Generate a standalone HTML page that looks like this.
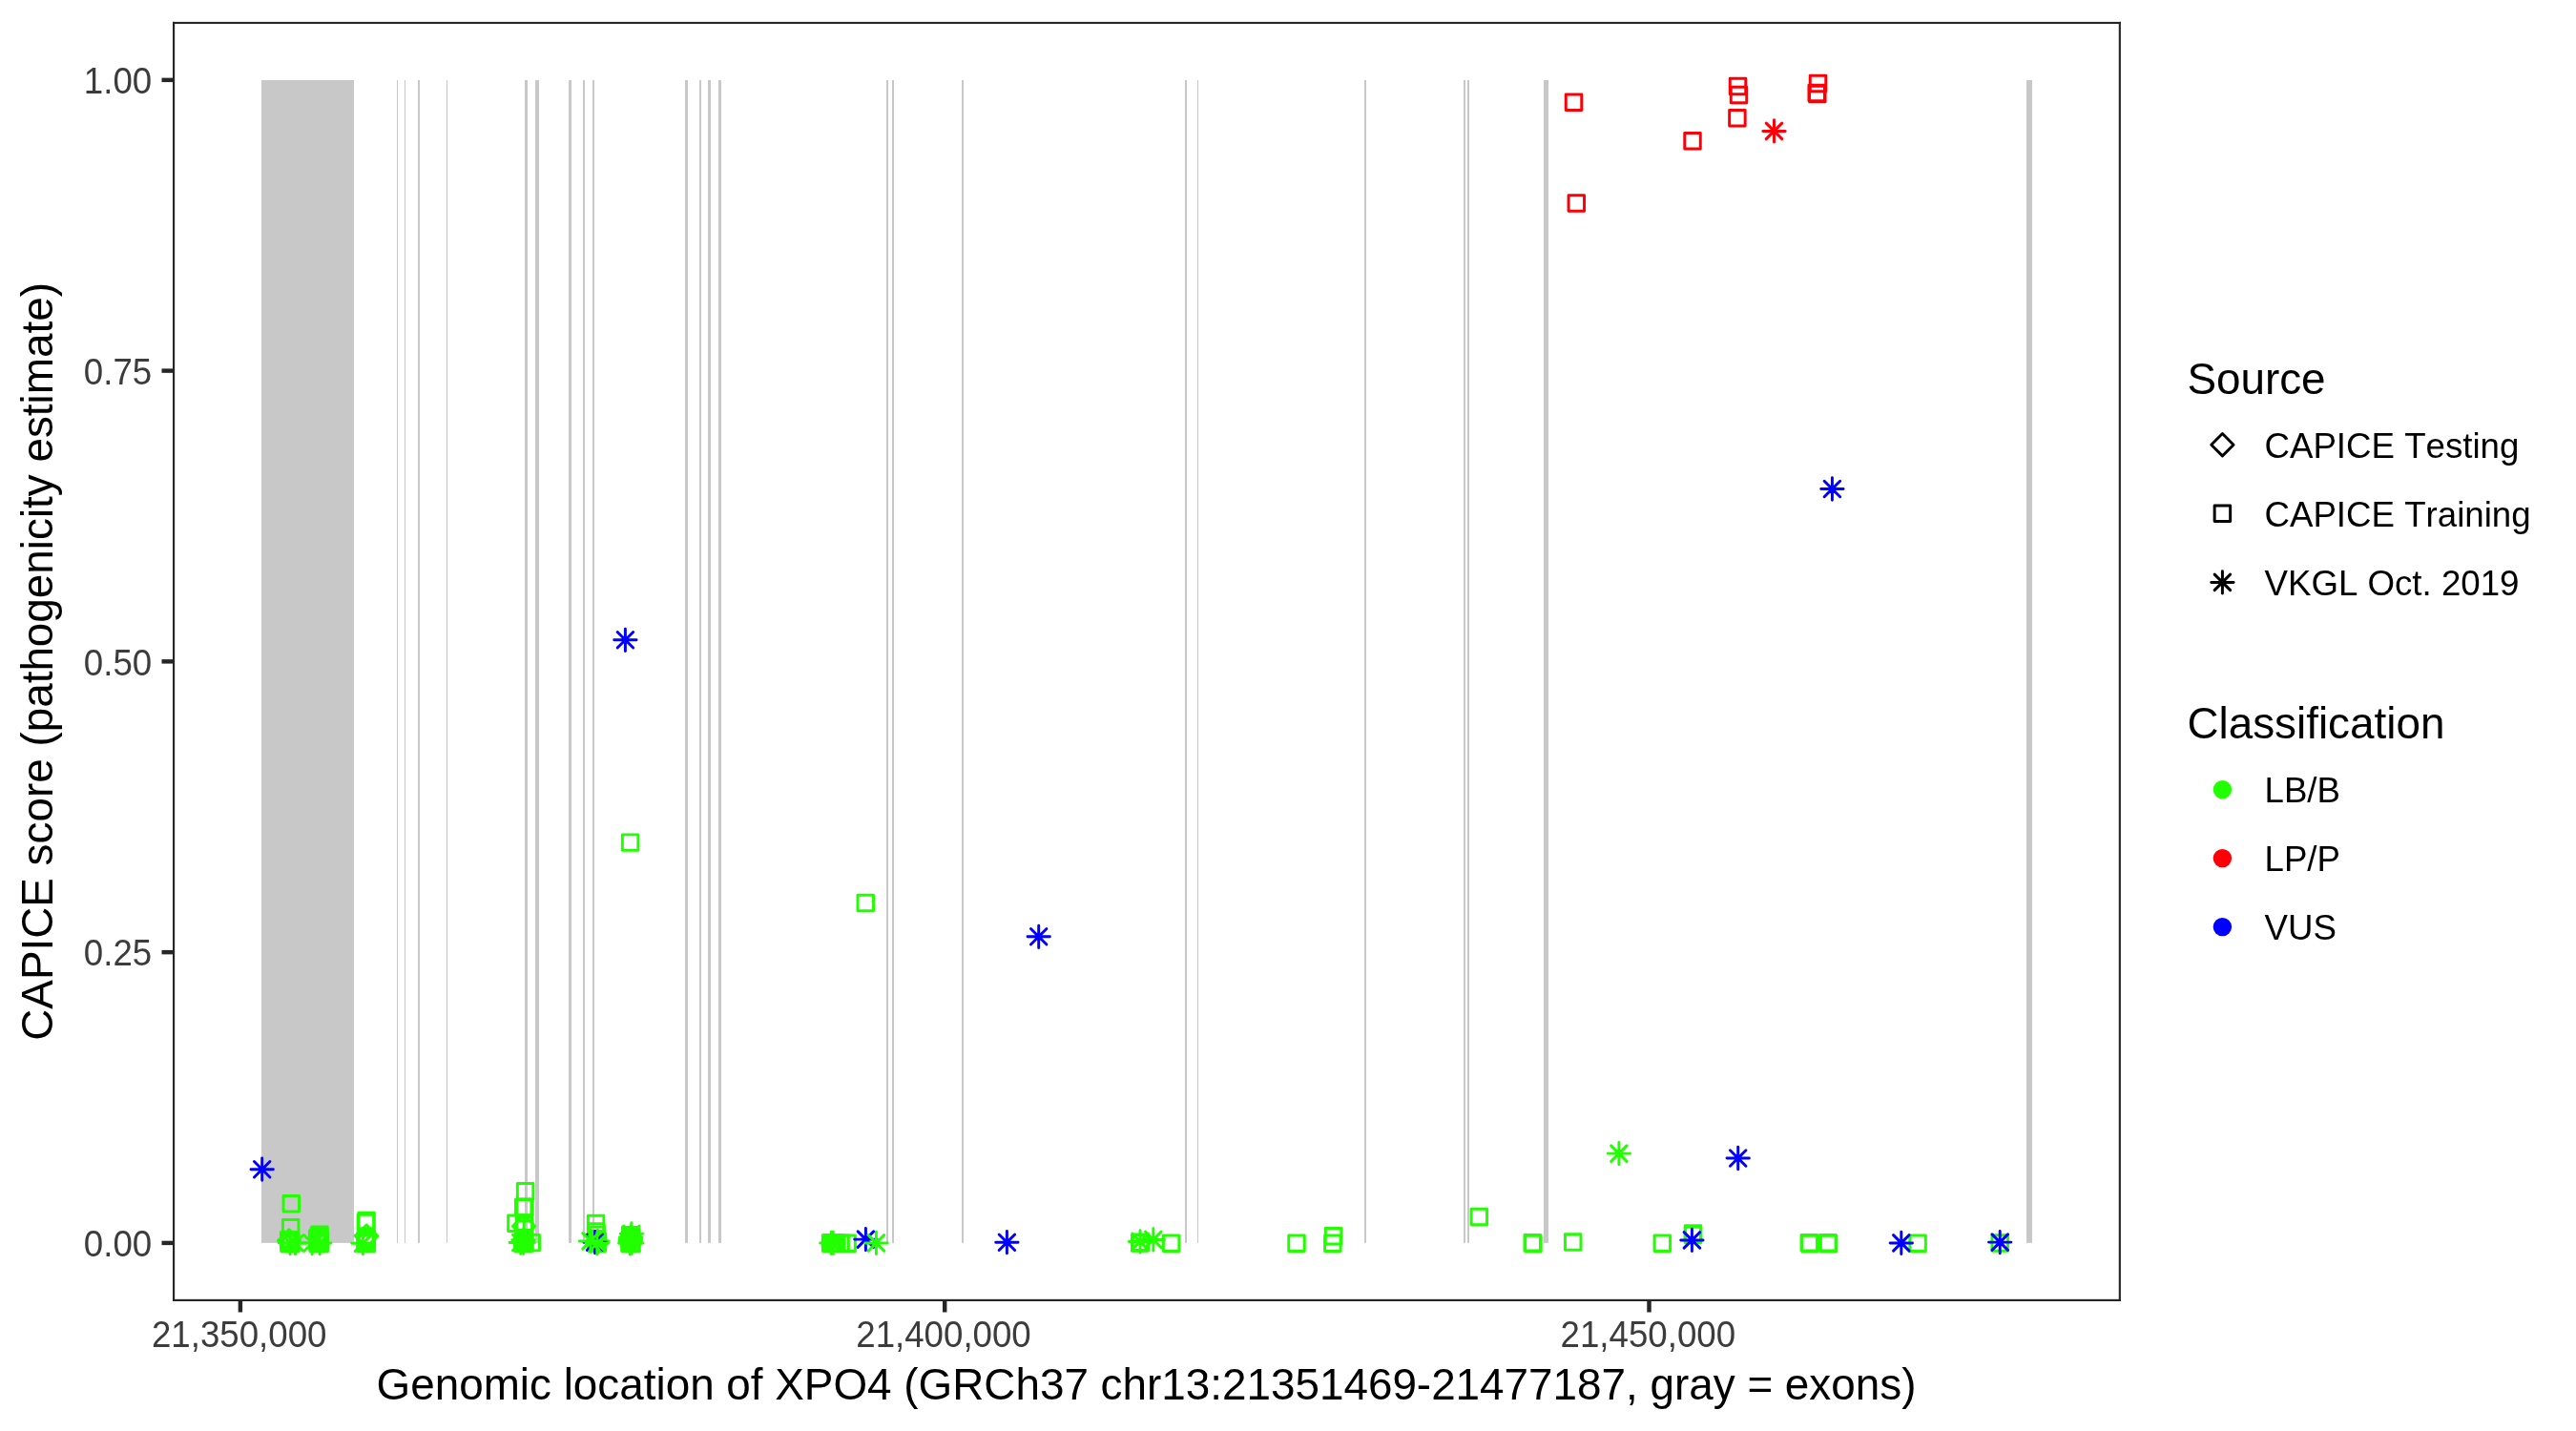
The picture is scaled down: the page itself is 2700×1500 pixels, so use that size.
<!DOCTYPE html>
<html><head><meta charset="utf-8"><title>CAPICE XPO4</title>
<style>html,body{margin:0;padding:0;background:#fff;overflow:hidden}svg{display:block;will-change:transform}text{font-family:"Liberation Sans",sans-serif;font-kerning:none}.sq{fill:none;stroke-width:2.95;stroke-linejoin:round}.st{fill:none;stroke-width:2.95;stroke-linecap:round}.g{stroke:#22FF00}.r{stroke:#FB0007}.b{stroke:#0000FF}.k{stroke:#000}</style></head><body>
<svg width="2700" height="1500" viewBox="0 0 2700 1500">
<rect width="2700" height="1500" fill="#fff"/>
<g fill="#C8C8C8">
<rect x="274.00" y="84.00" width="97.00" height="1218.90"/>
<rect x="416.00" y="84.00" width="1.00" height="1218.90"/>
<rect x="424.00" y="84.00" width="1.00" height="1218.90"/>
<rect x="438.00" y="84.00" width="2.00" height="1218.90"/>
<rect x="468.00" y="84.00" width="1.00" height="1218.90"/>
<rect x="550.00" y="84.00" width="3.00" height="1218.90"/>
<rect x="561.00" y="84.00" width="4.00" height="1218.90"/>
<rect x="596.00" y="84.00" width="3.00" height="1218.90"/>
<rect x="611.00" y="84.00" width="2.00" height="1218.90"/>
<rect x="621.00" y="84.00" width="2.00" height="1218.90"/>
<rect x="718.00" y="84.00" width="3.00" height="1218.90"/>
<rect x="733.00" y="84.00" width="2.00" height="1218.90"/>
<rect x="742.00" y="84.00" width="3.00" height="1218.90"/>
<rect x="753.00" y="84.00" width="3.00" height="1218.90"/>
<rect x="929.00" y="84.00" width="2.00" height="1218.90"/>
<rect x="935.00" y="84.00" width="2.00" height="1218.90"/>
<rect x="1008.00" y="84.00" width="2.00" height="1218.90"/>
<rect x="1242.00" y="84.00" width="2.00" height="1218.90"/>
<rect x="1255.00" y="84.00" width="1.00" height="1218.90"/>
<rect x="1430.00" y="84.00" width="2.00" height="1218.90"/>
<rect x="1534.00" y="84.00" width="2.00" height="1218.90"/>
<rect x="1538.00" y="84.00" width="2.00" height="1218.90"/>
<rect x="1618.00" y="84.00" width="5.00" height="1218.90"/>
<rect x="2124.00" y="84.00" width="6.00" height="1218.90"/>
</g>
<g>
<rect class="sq r" x="1641.25" y="98.95" width="16.50" height="16.50"/>
<rect class="sq r" x="1644.05" y="204.65" width="16.50" height="16.50"/>
<rect class="sq r" x="1765.75" y="139.55" width="16.50" height="16.50"/>
<rect class="sq r" x="1812.65" y="115.45" width="16.50" height="16.50"/>
<rect class="sq r" x="1813.25" y="82.15" width="16.50" height="16.50"/>
<rect class="sq r" x="1814.25" y="91.25" width="16.50" height="16.50"/>
<rect class="sq r" x="1897.25" y="79.25" width="16.50" height="16.50"/>
<rect class="sq r" x="1895.95" y="89.25" width="16.50" height="16.50"/>
<rect class="sq r" x="1896.55" y="90.35" width="16.50" height="16.50"/>
<path class="st r" d="M1847.83 137.40H1871.17M1859.50 125.73V149.07M1851.25 129.15L1867.75 145.65M1851.25 145.65L1867.75 129.15"/>
<path class="st b" d="M643.73 670.80H667.07M655.40 659.13V682.47M647.15 662.55L663.65 679.05M647.15 679.05L663.65 662.55"/>
<rect class="sq g" x="652.35" y="874.85" width="16.50" height="16.50"/>
<rect class="sq g" x="899.00" y="938.15" width="16.50" height="16.50"/>
<path class="st b" d="M1077.03 981.80H1100.37M1088.70 970.13V993.47M1080.45 973.55L1096.95 990.05M1080.45 990.05L1096.95 973.55"/>
<path class="st b" d="M1908.73 512.50H1932.07M1920.40 500.83V524.17M1912.15 504.25L1928.65 520.75M1912.15 520.75L1928.65 504.25"/>
<path class="st g" d="M1685.23 1209.10H1708.57M1696.90 1197.43V1220.77M1688.65 1200.85L1705.15 1217.35M1688.65 1217.35L1705.15 1200.85"/>
<path class="st b" d="M1810.03 1214.00H1833.37M1821.70 1202.33V1225.67M1813.45 1205.75L1829.95 1222.25M1813.45 1222.25L1829.95 1205.75"/>
<path class="st b" d="M263.03 1225.70H286.37M274.70 1214.03V1237.37M266.45 1217.45L282.95 1233.95M266.45 1233.95L282.95 1217.45"/>
<rect class="sq g" x="297.05" y="1253.55" width="16.50" height="16.50"/>
<rect class="sq g" x="296.45" y="1278.55" width="16.50" height="16.50"/>
<rect class="sq g" x="294.45" y="1291.45" width="16.50" height="16.50"/>
<rect class="sq g" x="295.25" y="1292.75" width="16.50" height="16.50"/>
<rect class="sq g" x="296.05" y="1293.95" width="16.50" height="16.50"/>
<rect class="sq g" x="296.75" y="1295.05" width="16.50" height="16.50"/>
<rect class="sq g" x="294.65" y="1295.05" width="16.50" height="16.50"/>
<rect class="sq g" x="295.75" y="1292.15" width="16.50" height="16.50"/>
<path class="sq g" d="M291.33 1300.50L303.00 1288.83L314.67 1300.50L303.00 1312.17Z"/>
<path class="st g" d="M292.33 1303.00H315.67M304.00 1291.33V1314.67M295.75 1294.75L312.25 1311.25M295.75 1311.25L312.25 1294.75"/>
<path class="st g" d="M297.83 1303.00H321.17M309.50 1291.33V1314.67M301.25 1294.75L317.75 1311.25M301.25 1311.25L317.75 1294.75"/>
<rect class="sq g" x="295.65" y="1291.65" width="16.50" height="16.50"/>
<rect class="sq g" x="326.75" y="1285.95" width="16.50" height="16.50"/>
<rect class="sq g" x="326.15" y="1287.75" width="16.50" height="16.50"/>
<rect class="sq g" x="324.45" y="1290.15" width="16.50" height="16.50"/>
<rect class="sq g" x="325.35" y="1291.75" width="16.50" height="16.50"/>
<rect class="sq g" x="326.55" y="1293.25" width="16.50" height="16.50"/>
<rect class="sq g" x="324.75" y="1295.05" width="16.50" height="16.50"/>
<rect class="sq g" x="327.15" y="1295.05" width="16.50" height="16.50"/>
<rect class="sq g" x="325.75" y="1289.05" width="16.50" height="16.50"/>
<rect class="sq g" x="326.95" y="1290.95" width="16.50" height="16.50"/>
<path class="st g" d="M315.43 1303.00H338.77M327.10 1291.33V1314.67M318.85 1294.75L335.35 1311.25M318.85 1311.25L335.35 1294.75"/>
<path class="st g" d="M323.53 1303.00H346.87M335.20 1291.33V1314.67M326.95 1294.75L343.45 1311.25M326.95 1311.25L343.45 1294.75"/>
<rect class="sq g" x="325.15" y="1292.75" width="16.50" height="16.50"/>
<rect class="sq g" x="326.35" y="1286.95" width="16.50" height="16.50"/>
<rect class="sq g" x="325.55" y="1294.15" width="16.50" height="16.50"/>
<rect class="sq g" x="375.85" y="1271.15" width="16.50" height="16.50"/>
<rect class="sq g" x="375.15" y="1273.15" width="16.50" height="16.50"/>
<rect class="sq g" x="374.95" y="1295.05" width="16.50" height="16.50"/>
<rect class="sq g" x="376.15" y="1295.05" width="16.50" height="16.50"/>
<rect class="sq g" x="375.55" y="1293.25" width="16.50" height="16.50"/>
<path class="sq g" d="M372.43 1295.60L384.10 1283.93L395.77 1295.60L384.10 1307.27Z"/>
<path class="st g" d="M368.73 1303.20H392.07M380.40 1291.53V1314.87M372.15 1294.95L388.65 1311.45M372.15 1311.45L388.65 1294.95"/>
<rect class="sq g" x="375.25" y="1291.25" width="16.50" height="16.50"/>
<rect class="sq g" x="375.95" y="1289.35" width="16.50" height="16.50"/>
<rect class="sq g" x="374.75" y="1292.35" width="16.50" height="16.50"/>
<rect class="sq g" x="542.35" y="1240.55" width="16.50" height="16.50"/>
<rect class="sq g" x="540.45" y="1257.25" width="16.50" height="16.50"/>
<rect class="sq g" x="541.75" y="1257.45" width="16.50" height="16.50"/>
<rect class="sq g" x="532.65" y="1274.05" width="16.50" height="16.50"/>
<rect class="sq g" x="548.95" y="1294.35" width="16.50" height="16.50"/>
<rect class="sq g" x="541.25" y="1276.05" width="16.50" height="16.50"/>
<rect class="sq g" x="541.50" y="1279.65" width="16.50" height="16.50"/>
<rect class="sq g" x="541.05" y="1289.55" width="16.50" height="16.50"/>
<rect class="sq g" x="539.55" y="1294.95" width="16.50" height="16.50"/>
<rect class="sq g" x="541.75" y="1294.75" width="16.50" height="16.50"/>
<rect class="sq g" x="540.75" y="1293.25" width="16.50" height="16.50"/>
<rect class="sq g" x="540.15" y="1291.75" width="16.50" height="16.50"/>
<rect class="sq g" x="540.95" y="1290.75" width="16.50" height="16.50"/>
<rect class="sq g" x="540.35" y="1294.15" width="16.50" height="16.50"/>
<path class="sq g" d="M537.43 1285.40L549.10 1273.73L560.77 1285.40L549.10 1297.07Z"/>
<path class="st g" d="M534.03 1302.50H557.37M545.70 1290.83V1314.17M537.45 1294.25L553.95 1310.75M537.45 1310.75L553.95 1294.25"/>
<path class="st g" d="M536.83 1299.80H560.17M548.50 1288.13V1311.47M540.25 1291.55L556.75 1308.05M540.25 1308.05L556.75 1291.55"/>
<path class="st g" d="M536.93 1302.60H560.27M548.60 1290.93V1314.27M540.35 1294.35L556.85 1310.85M540.35 1310.85L556.85 1294.35"/>
<rect class="sq g" x="616.35" y="1274.25" width="16.50" height="16.50"/>
<rect class="sq g" x="616.55" y="1282.65" width="16.50" height="16.50"/>
<rect class="sq g" x="616.75" y="1285.95" width="16.50" height="16.50"/>
<rect class="sq g" x="617.05" y="1290.35" width="16.50" height="16.50"/>
<rect class="sq g" x="617.75" y="1294.95" width="16.50" height="16.50"/>
<rect class="sq g" x="618.25" y="1293.75" width="16.50" height="16.50"/>
<rect class="sq g" x="617.15" y="1292.25" width="16.50" height="16.50"/>
<rect class="sq g" x="616.65" y="1294.75" width="16.50" height="16.50"/>
<rect class="sq g" x="617.55" y="1292.95" width="16.50" height="16.50"/>
<path class="sq g" d="M614.33 1302.00L626.00 1290.33L637.67 1302.00L626.00 1313.67Z"/>
<path class="st g" d="M614.63 1301.00H637.97M626.30 1289.33V1312.67M618.05 1292.75L634.55 1309.25M618.05 1309.25L634.55 1292.75"/>
<path class="st b" d="M611.93 1302.20H635.27M623.60 1290.53V1313.87M615.35 1293.95L631.85 1310.45M615.35 1310.45L631.85 1293.95"/>
<path class="st g" d="M607.33 1300.90H630.67M619.00 1289.23V1312.57M610.75 1292.65L627.25 1309.15M610.75 1309.15L627.25 1292.65"/>
<path class="st g" d="M614.13 1303.30H637.47M625.80 1291.63V1314.97M617.55 1295.05L634.05 1311.55M617.55 1311.55L634.05 1295.05"/>
<rect class="sq g" x="652.35" y="1286.55" width="16.50" height="16.50"/>
<rect class="sq g" x="652.95" y="1287.75" width="16.50" height="16.50"/>
<rect class="sq g" x="653.55" y="1289.75" width="16.50" height="16.50"/>
<rect class="sq g" x="652.15" y="1291.75" width="16.50" height="16.50"/>
<rect class="sq g" x="653.15" y="1293.35" width="16.50" height="16.50"/>
<rect class="sq g" x="651.75" y="1294.95" width="16.50" height="16.50"/>
<rect class="sq g" x="653.55" y="1294.95" width="16.50" height="16.50"/>
<rect class="sq g" x="652.55" y="1288.75" width="16.50" height="16.50"/>
<rect class="sq g" x="652.95" y="1290.95" width="16.50" height="16.50"/>
<path class="st g" d="M650.18 1293.30H673.52M661.85 1281.63V1304.97M653.60 1285.05L670.10 1301.55M653.60 1301.55L670.10 1285.05"/>
<path class="st g" d="M649.53 1296.70H672.87M661.20 1285.03V1308.37M652.95 1288.45L669.45 1304.95M652.95 1304.95L669.45 1288.45"/>
<path class="st g" d="M648.93 1300.00H672.27M660.60 1288.33V1311.67M652.35 1291.75L668.85 1308.25M652.35 1308.25L668.85 1291.75"/>
<path class="st g" d="M648.53 1303.30H671.87M660.20 1291.63V1314.97M651.95 1295.05L668.45 1311.55M651.95 1311.55L668.45 1295.05"/>
<path class="st g" d="M650.43 1302.90H673.77M662.10 1291.23V1314.57M653.85 1294.65L670.35 1311.15M653.85 1311.15L670.35 1294.65"/>
<path class="st g" d="M649.13 1302.60H672.47M660.80 1290.93V1314.27M652.55 1294.35L669.05 1310.85M652.55 1310.85L669.05 1294.35"/>
<path class="sq g" d="M649.33 1298.50L661.00 1286.83L672.67 1298.50L661.00 1310.17Z"/>
<path class="sq g" d="M649.33 1301.50L661.00 1289.83L672.67 1301.50L661.00 1313.17Z"/>
<rect class="sq g" x="862.35" y="1294.95" width="16.50" height="16.50"/>
<rect class="sq g" x="863.75" y="1294.95" width="16.50" height="16.50"/>
<rect class="sq g" x="865.25" y="1294.95" width="16.50" height="16.50"/>
<rect class="sq g" x="866.75" y="1294.95" width="16.50" height="16.50"/>
<rect class="sq g" x="868.65" y="1294.95" width="16.50" height="16.50"/>
<rect class="sq g" x="865.95" y="1294.95" width="16.50" height="16.50"/>
<rect class="sq g" x="863.05" y="1294.95" width="16.50" height="16.50"/>
<rect class="sq g" x="872.85" y="1294.95" width="16.50" height="16.50"/>
<rect class="sq g" x="879.85" y="1294.95" width="16.50" height="16.50"/>
<path class="st g" d="M859.63 1302.90H882.97M871.30 1291.23V1314.57M863.05 1294.65L879.55 1311.15M863.05 1311.15L879.55 1294.65"/>
<path class="st g" d="M861.63 1302.90H884.97M873.30 1291.23V1314.57M865.05 1294.65L881.55 1311.15M865.05 1311.15L881.55 1294.65"/>
<path class="st b" d="M895.73 1299.10H919.07M907.40 1287.43V1310.77M899.15 1290.85L915.65 1307.35M899.15 1307.35L915.65 1290.85"/>
<path class="st g" d="M906.73 1302.90H930.07M918.40 1291.23V1314.57M910.15 1294.65L926.65 1311.15M910.15 1311.15L926.65 1294.65"/>
<path class="st b" d="M1043.73 1302.20H1067.07M1055.40 1290.53V1313.87M1047.15 1293.95L1063.65 1310.45M1047.15 1310.45L1063.65 1293.95"/>
<rect class="sq g" x="1186.45" y="1294.75" width="16.50" height="16.50"/>
<rect class="sq g" x="1187.35" y="1293.95" width="16.50" height="16.50"/>
<path class="st g" d="M1183.33 1301.40H1206.67M1195.00 1289.73V1313.07M1186.75 1293.15L1203.25 1309.65M1186.75 1309.65L1203.25 1293.15"/>
<path class="st g" d="M1197.13 1299.40H1220.47M1208.80 1287.73V1311.07M1200.55 1291.15L1217.05 1307.65M1200.55 1307.65L1217.05 1291.15"/>
<rect class="sq g" x="1219.35" y="1295.05" width="16.50" height="16.50"/>
<rect class="sq g" x="1350.75" y="1295.05" width="16.50" height="16.50"/>
<rect class="sq g" x="1389.35" y="1287.45" width="16.50" height="16.50"/>
<rect class="sq g" x="1388.55" y="1295.05" width="16.50" height="16.50"/>
<rect class="sq g" x="1542.05" y="1267.15" width="16.50" height="16.50"/>
<rect class="sq g" x="1597.95" y="1294.45" width="16.50" height="16.50"/>
<rect class="sq g" x="1598.65" y="1295.25" width="16.50" height="16.50"/>
<rect class="sq g" x="1640.45" y="1293.65" width="16.50" height="16.50"/>
<rect class="sq g" x="1734.05" y="1294.95" width="16.50" height="16.50"/>
<rect class="sq g" x="1766.25" y="1284.75" width="16.50" height="16.50"/>
<rect class="sq g" x="1766.25" y="1286.25" width="16.50" height="16.50"/>
<path class="st b" d="M1761.73 1299.90H1785.07M1773.40 1288.23V1311.57M1765.15 1291.65L1781.65 1308.15M1765.15 1308.15L1781.65 1291.65"/>
<rect class="sq g" x="1888.05" y="1294.45" width="16.50" height="16.50"/>
<rect class="sq g" x="1888.85" y="1295.15" width="16.50" height="16.50"/>
<rect class="sq g" x="1907.55" y="1294.45" width="16.50" height="16.50"/>
<rect class="sq g" x="1908.35" y="1295.15" width="16.50" height="16.50"/>
<rect class="sq g" x="2001.85" y="1294.95" width="16.50" height="16.50"/>
<path class="st b" d="M1981.13 1302.90H2004.47M1992.80 1291.23V1314.57M1984.55 1294.65L2001.05 1311.15M1984.55 1311.15L2001.05 1294.65"/>
<rect class="sq g" x="2087.95" y="1294.65" width="16.50" height="16.50"/>
<path class="st b" d="M2084.53 1302.10H2107.87M2096.20 1290.43V1313.77M2087.95 1293.85L2104.45 1310.35M2087.95 1310.35L2104.45 1293.85"/>
</g>
<g fill="#262626">
<rect x="181.00" y="22.90" width="2041.90" height="2.15"/>
<rect x="181.00" y="1361.85" width="2041.90" height="2.15"/>
<rect x="181.00" y="22.90" width="2.15" height="1341.10"/>
<rect x="2220.75" y="22.90" width="2.15" height="1341.10"/>
<rect x="169.50" y="1300.68" width="11.50" height="4.45"/>
<rect x="169.50" y="995.91" width="11.50" height="4.45"/>
<rect x="169.50" y="691.15" width="11.50" height="4.45"/>
<rect x="169.50" y="386.39" width="11.50" height="4.45"/>
<rect x="169.50" y="81.62" width="11.50" height="4.45"/>
<rect x="249.68" y="1364.00" width="4.45" height="11.50"/>
<rect x="987.98" y="1364.00" width="4.45" height="11.50"/>
<rect x="1726.28" y="1364.00" width="4.45" height="11.50"/>
</g>
<g fill="#3C3C3C" font-size="36.67">
<text transform="translate(159.2 1317.20) scale(1 1.038)" text-anchor="end">0.00</text>
<text transform="translate(159.2 1012.44) scale(1 1.038)" text-anchor="end">0.25</text>
<text transform="translate(159.2 707.67) scale(1 1.038)" text-anchor="end">0.50</text>
<text transform="translate(159.2 402.91) scale(1 1.038)" text-anchor="end">0.75</text>
<text transform="translate(159.2 98.15) scale(1 1.038)" text-anchor="end">1.00</text>
<text transform="translate(250.70 1412.4) scale(1 1.038)" text-anchor="middle">21,350,000</text>
<text transform="translate(989.00 1412.4) scale(1 1.038)" text-anchor="middle">21,400,000</text>
<text transform="translate(1727.30 1412.4) scale(1 1.038)" text-anchor="middle">21,450,000</text>
</g>
<g fill="#000" font-size="45.83">
<text x="1201.5" y="1466.9" text-anchor="middle">Genomic location of XPO4 (GRCh37 chr13:21351469-21477187, gray = exons)</text>
<text transform="translate(55.2 693.4) rotate(-90)" text-anchor="middle">CAPICE score (pathogenicity estimate)</text>
<text x="2292.4" y="413.2">Source</text>
<text x="2292.4" y="774.1">Classification</text>
</g>
<g>
<path class="sq k" d="M2317.73 466.20L2329.40 454.53L2341.07 466.20L2329.40 477.87Z"/>
<rect class="sq k" x="2321.15" y="530.05" width="16.50" height="16.50"/>
<path class="st k" d="M2317.73 610.40H2341.07M2329.40 598.73V622.07M2321.15 602.15L2337.65 618.65M2321.15 618.65L2337.65 602.15"/>
<circle cx="2329.40" cy="827.6" r="9.72" fill="#22FF00"/>
<circle cx="2329.40" cy="899.6" r="9.72" fill="#FB0007"/>
<circle cx="2329.40" cy="971.6" r="9.72" fill="#0000FF"/>
</g>
<g fill="#000" font-size="36.67">
<text x="2373.5" y="480.20">CAPICE Testing</text>
<text x="2373.5" y="552.30">CAPICE Training</text>
<text x="2373.5" y="624.40">VKGL Oct. 2019</text>
<text x="2373.5" y="841.10">LB/B</text>
<text x="2373.5" y="913.10">LP/P</text>
<text x="2373.5" y="985.10">VUS</text>
</g>
</svg></body></html>
